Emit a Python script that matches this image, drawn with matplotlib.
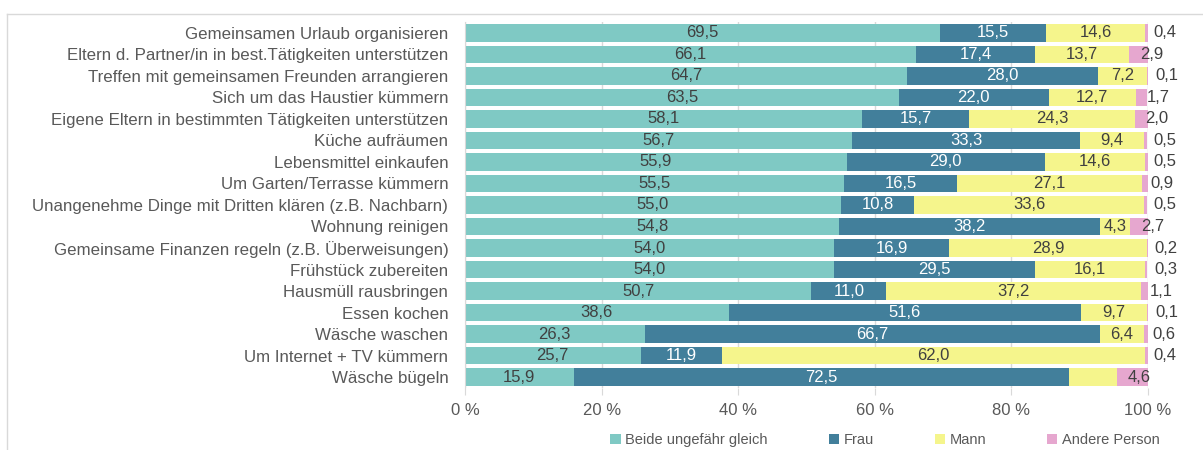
import matplotlib
matplotlib.use("Agg")
from matplotlib import pyplot as plt
from matplotlib.lines import Line2D
import numpy as np

tasks = ["Gemeinsamen Urlaub organisieren",
         "Eltern d. Partner/in in best.Tätigkeiten unterstützen",
         "Treffen mit gemeinsamen Freunden arrangieren",
         "Sich um das Haustier kümmern",
         "Eigene Eltern in bestimmten Tätigkeiten unterstützen",
         "Küche aufräumen",
         "Lebensmittel einkaufen",
         "Um Garten/Terrasse kümmern",
         "Unangenehme Dinge mit Dritten klären (z.B. Nachbarn)",
         "Wohnung reinigen",
         "Gemeinsame Finanzen regeln (z.B. Überweisungen)",
         "Frühstück zubereiten",
         "Hausmüll rausbringen",
         "Essen kochen",
         "Wäsche waschen",
         "Um Internet + TV kümmern",
         "Wäsche bügeln"]
beide = [69.5, 66.1, 64.7, 63.5, 58.1, 56.7, 55.9, 55.5, 55.0, 54.8, 54.0, 54.0, 50.7, 38.6, 26.3, 25.7, 15.9]
frau = [15.5, 17.4, 28.0, 22.0, 15.7, 33.3, 29.0, 16.5, 10.8, 38.2, 16.9, 29.5, 11.0, 51.6, 66.7, 11.9, 72.5]
mann = [14.6, 13.7, 7.2, 12.7, 24.3, 9.4, 14.6, 27.1, 33.6, 4.3, 28.9, 16.1, 37.2, 9.7, 6.4, 62.0, 7.0]
andere = [0.4, 2.9, 0.1, 1.7, 2.0, 0.5, 0.5, 0.9, 0.5, 2.7, 0.2, 0.3, 1.1, 0.1, 0.6, 0.4, 4.6]
show_mann = [True] * 16 + [False]

series = [("Beide ungefähr gleich", beide, "#7fc9c4", "#404040"),
          ("Frau", frau, "#427f9b", "white"),
          ("Mann", mann, "#f5f58c", "#404040"),
          ("Andere Person", andere, "#e6a7cf", "#404040")]

plt.rcParams['font.family'] = ['Liberation Sans', 'DejaVu Sans']

fig = plt.figure(figsize=(12.03, 4.5), dpi=100)
ax = fig.add_axes([0.3865, 0.1383, 0.5678, 0.8123])

y = np.arange(len(tasks))
left = np.zeros(len(tasks))
for k, (name, vals, col, tcol) in enumerate(series):
    vals = np.array(vals)
    ax.barh(y, vals, left=left, height=0.8, color=col, label=name, zorder=2)
    for i, v in enumerate(vals):
        txt = f"{v:.1f}".replace(".", ",")
        cx = left[i] + v / 2
        if k == 2 and not show_mann[i]:
            continue
        if k == 3:
            # small pink segments: label pushed right of the bar end
            cx = cx + 1.0 if v >= 4 else 102.8 - v * 0.8
        ax.text(cx, i, txt, ha="center", va="center", fontsize=12,
                color=tcol, zorder=3)
    left += vals

ax.set_xlim(0, 100)
ax.set_ylim(len(tasks) - 0.5, -0.5)
ax.set_yticks(y)
ax.set_yticklabels(tasks, fontsize=12.2, color="#595959")
ax.set_xticks([0, 20, 40, 60, 80, 100])
ax.set_xticklabels(["0 %", "20 %", "40 %", "60 %", "80 %", "100 %"],
                   fontsize=12, color="#595959")
ax.tick_params(axis="y", length=0, pad=12)
ax.tick_params(axis="x", length=5, color="#d9d9d9", pad=6)
ax.grid(axis="x", color="#d9d9d9", linewidth=1, zorder=0)
for s in ["top", "right", "bottom"]:
    ax.spines[s].set_visible(False)
ax.spines["left"].set_color("#d9d9d9")

ax.legend(loc="center", bbox_to_anchor=(885 / 1203, 1 - 440 / 450),
          bbox_transform=fig.transFigure, ncol=4, frameon=False,
          fontsize=10.5, handlelength=0.7, handleheight=0.7,
          handletextpad=0.3, columnspacing=4.2, labelcolor="#595959")

# chart frame edges
fig.add_artist(Line2D([7 / 1203, 1], [1 - 14 / 450, 1 - 14 / 450],
                      transform=fig.transFigure, color="#d9d9d9", linewidth=1))
fig.add_artist(Line2D([7 / 1203, 7 / 1203], [0, 1 - 14 / 450],
                      transform=fig.transFigure, color="#d9d9d9", linewidth=1))

plt.savefig("out.png", dpi=100)
